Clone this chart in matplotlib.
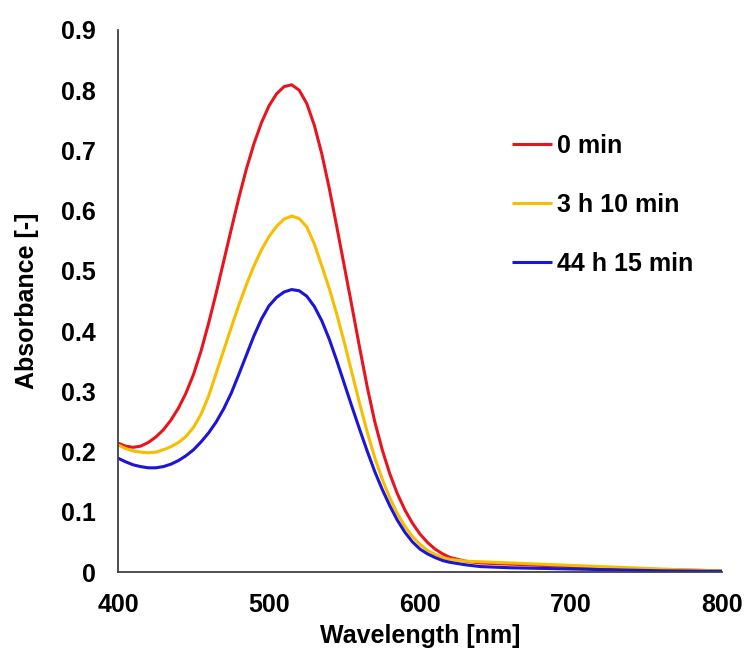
import matplotlib
matplotlib.use("Agg")
import matplotlib.pyplot as plt

wavelength = [400, 405, 410, 415, 420, 425, 430, 435, 440, 445, 450, 455, 460, 465, 470,
              475, 480, 485, 490, 495, 500, 505, 510, 515, 520, 525, 530, 535, 540, 545,
              550, 555, 560, 565, 570, 575, 580, 585, 590, 595, 600, 605, 610, 615, 620,
              630, 640, 660, 680, 700, 720, 740, 760, 780, 800]

abs_0min = [0.214, 0.209, 0.207, 0.209, 0.215, 0.224, 0.236, 0.252, 0.272, 0.297, 0.328, 0.367, 0.413, 0.463, 0.516,
            0.569, 0.621, 0.669, 0.711, 0.746, 0.774, 0.794, 0.806, 0.809, 0.800, 0.778, 0.742, 0.694, 0.636, 0.572,
            0.506, 0.440, 0.373, 0.308, 0.250, 0.203, 0.163, 0.130, 0.103, 0.081, 0.063, 0.049, 0.038, 0.030, 0.024,
            0.018, 0.015, 0.013, 0.011, 0.009, 0.007, 0.005, 0.004, 0.003, 0.002]

abs_3h10 = [0.211, 0.205, 0.201, 0.199, 0.198, 0.199, 0.203, 0.208, 0.215, 0.225, 0.240, 0.262, 0.292, 0.330, 0.368,
            0.406, 0.443, 0.477, 0.508, 0.535, 0.557, 0.574, 0.586, 0.591, 0.587, 0.573, 0.545, 0.508, 0.470, 0.427,
            0.380, 0.330, 0.280, 0.233, 0.190, 0.154, 0.123, 0.097, 0.076, 0.059, 0.046, 0.036, 0.029, 0.024, 0.021,
            0.018, 0.017, 0.015, 0.013, 0.011, 0.009, 0.007, 0.005, 0.003, 0.002]

abs_44h15 = [0.189, 0.183, 0.178, 0.175, 0.173, 0.173, 0.175, 0.179, 0.185, 0.193, 0.203, 0.216, 0.231, 0.249, 0.271,
             0.297, 0.328, 0.360, 0.392, 0.420, 0.442, 0.456, 0.465, 0.469, 0.467, 0.458, 0.441, 0.417, 0.386, 0.350,
             0.312, 0.274, 0.237, 0.201, 0.167, 0.137, 0.110, 0.086, 0.066, 0.050, 0.038, 0.030, 0.024, 0.019, 0.016,
             0.012, 0.009, 0.007, 0.006, 0.005, 0.004, 0.003, 0.002, 0.0015, 0.001]

labels = ["0 min", "3 h 10 min", "44 h 15 min"]
colors = ["#e8141e", "#f7bd00", "#1c14d8"]
x_ticks = [400, 500, 600, 700, 800]
y_ticks = [0, 0.1, 0.2, 0.3, 0.4, 0.5, 0.6, 0.7, 0.8, 0.9]
y_tick_labels = ["0", "0.1", "0.2", "0.3", "0.4", "0.5", "0.6", "0.7", "0.8", "0.9"]

plt.rcParams['font.family'] = ['Liberation Sans', 'DejaVu Sans']

fig = plt.figure(figsize=(7.47, 6.51), dpi=100)
ax = fig.add_axes([118 / 747, 79 / 651, 604 / 747, 542 / 651])

for ys, lab, c in zip([abs_0min, abs_3h10, abs_44h15], labels, colors):
    ax.plot(wavelength, ys, color=c, lw=2.2, label=lab, solid_capstyle='butt',
            solid_joinstyle='round')

ax.set_xlim(400, 800)
ax.set_ylim(0, 0.9)
ax.set_xticks(x_ticks)
ax.set_yticks(y_ticks)
ax.set_yticklabels(y_tick_labels)
ax.tick_params(length=0, labelsize=18)
ax.tick_params(axis='y', pad=16)
ax.tick_params(axis='x', pad=15)
for t in ax.get_xticklabels() + ax.get_yticklabels():
    t.set_fontweight('bold')

for s in ['top', 'right']:
    ax.spines[s].set_visible(False)
for s in ['left', 'bottom']:
    ax.spines[s].set_color('#404040')
    ax.spines[s].set_linewidth(1.3)

ax.set_xlabel("Wavelength [nm]", fontsize=18, fontweight='bold', labelpad=5)
ax.set_ylabel("Absorbance [-]", fontsize=18, fontweight='bold', labelpad=16)

leg = ax.legend(loc='upper left', bbox_to_anchor=(0.6515, 0.8087), frameon=False,
                prop={'size': 18, 'weight': 'bold'}, handlelength=1.6,
                handletextpad=0.2, labelspacing=1.4, borderaxespad=0, borderpad=0)
for h in leg.get_lines():
    h.set_linewidth(2.2)

fig.savefig("out.png", dpi=100)
